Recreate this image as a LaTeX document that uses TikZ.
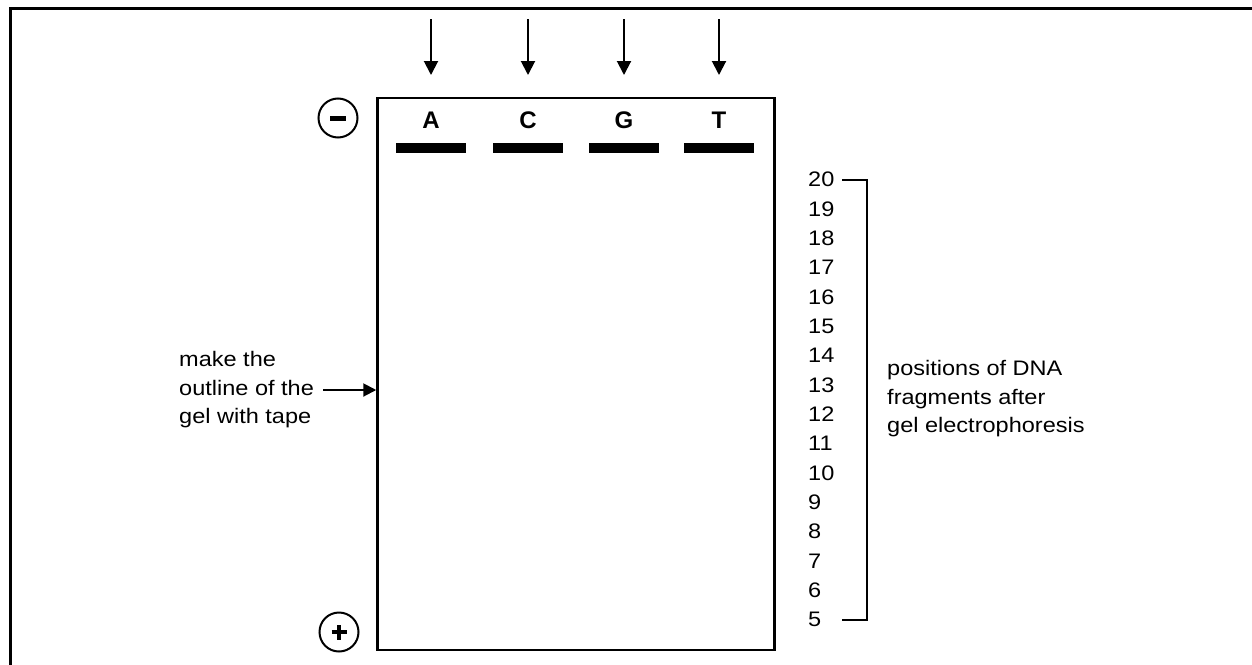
\documentclass[tikz,border=0pt]{standalone}
\usepackage{fontspec}
\setmainfont{Liberation Sans}[FakeStretch=1.12]
\newfontfamily\lanefont{Liberation Sans}
\usetikzlibrary{arrows.meta}
\begin{document}
\begin{tikzpicture}[x=1pt,y=-1pt,
  lbl/.style={inner sep=0pt, font=\fontsize{21}{28.5}\selectfont, align=left},
  numlbl/.style={inner sep=0pt, anchor=west, font=\fontsize{21}{25}\selectfont},
  lane/.style={inner sep=0pt, font=\lanefont\bfseries\fontsize{24}{28}\selectfont},
  arr/.style={line width=2pt, -{Triangle[width=14pt,length=14pt]}},
  bar/.style={fill=black, draw=none, minimum width=70pt, minimum height=10pt, inner sep=0pt},
  pole/.style={circle, draw, line width=2pt, minimum size=39pt, inner sep=0pt},
  frame/.style={line width=3pt}]
\useasboundingbox (0,0) rectangle (1252,664);
% outer frame (top and left only visible)
\coordinate (f1) at (10,700);
\coordinate (f2) at (10,8);
\coordinate (f3) at (1260,8);
\draw[frame] (f1) -- (f2) -- (f3);
% gel
\node[draw, line width=2.5pt, minimum width=397pt, minimum height=552pt, inner sep=0pt] (gel) at (576,374) {};
% lanes
\foreach \n/\x in {A/431, C/528, G/624, T/719}{
  \node[lane] (l\n) at (\x,120) {\n};
  \node[bar] (b\n) at (\x,148) {};
  \coordinate (s\n) at (\x,19);
  \coordinate (e\n) at (\x,75);
  \draw[arr] (s\n) -- (e\n);
}
% poles
\node[pole] (minus) at (338,118) {};
\draw[line width=5pt] ([xshift=-8pt]minus.center) -- ([xshift=8pt]minus.center);
\node[pole] (plus) at (339,632) {};
\draw[line width=4.5pt] ([xshift=-7.5pt]plus.center) -- ([xshift=7.5pt]plus.center);
\draw[line width=4.5pt] ([yshift=-7.5pt]plus.center) -- ([yshift=7.5pt]plus.center);
% left label
\node[lbl, anchor=west] (tape) at (179,390) {make the\\outline of the\\gel with tape};
\coordinate (tapearrow) at (323,390);
\draw[line width=2pt, -{Triangle[width=13pt,length=13pt]}] (tapearrow) -- (tapearrow -| gel.west);
% numbers
\foreach \k in {5,...,20}{
  \node[numlbl] (n\k) at (808,{179.5+(20-\k)*29.333}) {\k};
}
\coordinate (bx) at (842,0);
\coordinate (vx) at (867,0);
\draw[line width=2pt] (n20 -| bx) -- (n20 -| vx) -- (n5 -| vx) -- (n5 -| bx);
% right label
\node[lbl, anchor=west] (pos) at (887,399) {positions of DNA\\fragments after\\gel electrophoresis};
\end{tikzpicture}
\end{document}
